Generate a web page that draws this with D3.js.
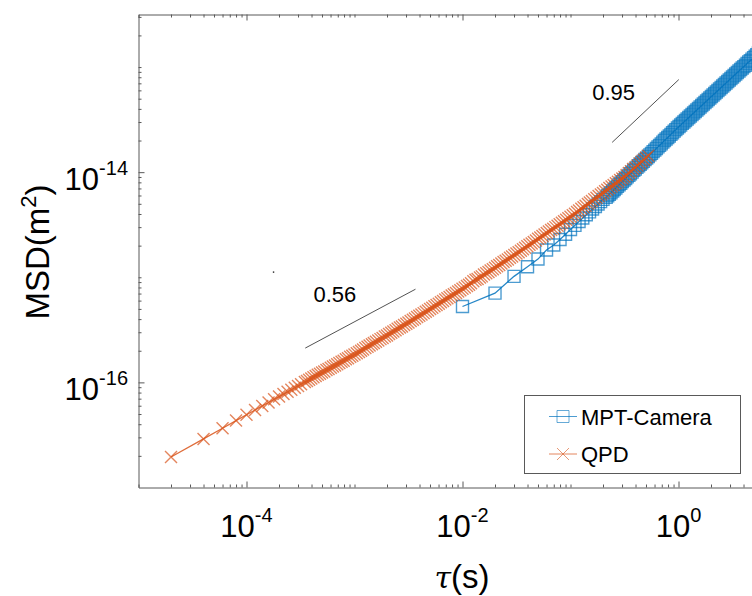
<!DOCTYPE html>
<html><head><meta charset="utf-8">
<script src="https://cdn.jsdelivr.net/npm/d3@7"></script>
<style>
body{margin:0;background:#fff}
svg{display:block}
text{font-family:"Liberation Sans",Arial,Helvetica,sans-serif;fill:#000}
</style>
</head><body><svg id="c" width="752" height="596"></svg>
<script>
// ---------------- data ----------------
const seriesNames = ["MPT-Camera", "QPD"];
const seriesColors = ["#0072BD", "#D95319"];

const qpdTau = [2e-5,4e-5,6e-5,8e-5,1.0e-4,1.2e-4,1.4e-4,1.6e-4,1.8e-4,2.0e-4,2.2e-4,2.4e-4,2.6e-4,2.8e-4,3.0e-4,3.2e-4,
 3.47e-4,3.63e-4,3.80e-4,3.98e-4,4.17e-4,4.37e-4,4.57e-4,4.79e-4,5.01e-4,5.25e-4,5.50e-4,5.75e-4,6.03e-4,6.31e-4,6.61e-4,6.92e-4,7.24e-4,7.59e-4,7.94e-4,8.32e-4,8.71e-4,9.12e-4,9.55e-4,1.00e-3,
 1.05e-3,1.10e-3,1.15e-3,1.20e-3,1.26e-3,1.32e-3,1.38e-3,1.45e-3,1.51e-3,1.58e-3,1.66e-3,1.74e-3,1.82e-3,1.91e-3,2.00e-3,2.09e-3,2.19e-3,2.29e-3,2.40e-3,2.51e-3,2.63e-3,2.75e-3,2.88e-3,3.02e-3,3.16e-3,
 3.31e-3,3.47e-3,3.63e-3,3.80e-3,3.98e-3,4.17e-3,4.37e-3,4.57e-3,4.79e-3,5.01e-3,5.25e-3,5.50e-3,5.75e-3,6.03e-3,6.31e-3,6.61e-3,6.92e-3,7.24e-3,7.59e-3,7.94e-3,8.32e-3,8.71e-3,9.12e-3,9.55e-3,1.00e-2,
 1.05e-2,1.10e-2,1.15e-2,1.20e-2,1.26e-2,1.32e-2,1.38e-2,1.45e-2,1.51e-2,1.58e-2,1.66e-2,1.74e-2,1.82e-2,1.91e-2,2.00e-2,2.09e-2,2.19e-2,2.29e-2,2.40e-2,2.51e-2,2.63e-2,2.75e-2,2.88e-2,3.02e-2,3.16e-2,
 3.31e-2,3.47e-2,3.63e-2,3.80e-2,3.98e-2,4.17e-2,4.37e-2,4.57e-2,4.79e-2,5.01e-2,5.25e-2,5.50e-2,5.75e-2,6.03e-2,6.31e-2,6.61e-2,6.92e-2,7.24e-2,7.59e-2,7.94e-2,8.32e-2,8.71e-2,9.12e-2,9.55e-2,0.100,
 0.105,0.110,0.115,0.120,0.126,0.132,0.138,0.145,0.151,0.158,0.166,0.174,0.182,0.191,0.200,0.209,0.219,0.229,0.240,0.251,0.263,0.275,0.288,0.302,0.316,
 0.331,0.347,0.363,0.380,0.398,0.417,0.437,0.457,0.479,0.501,0.525];
const qpdMsd = [1.95e-17,2.90e-17,3.66e-17,4.33e-17,4.92e-17,5.46e-17,5.97e-17,6.44e-17,6.90e-17,7.33e-17,7.74e-17,8.13e-17,8.51e-17,8.89e-17,9.25e-17,9.59e-17,
 1.01e-16,1.03e-16,1.06e-16,1.09e-16,1.12e-16,1.15e-16,1.18e-16,1.21e-16,1.24e-16,1.27e-16,1.31e-16,1.34e-16,1.38e-16,1.42e-16,1.45e-16,1.49e-16,1.53e-16,1.57e-16,1.61e-16,1.66e-16,1.70e-16,1.75e-16,1.79e-16,1.84e-16,
 1.89e-16,1.95e-16,2.00e-16,2.06e-16,2.12e-16,2.18e-16,2.24e-16,2.30e-16,2.37e-16,2.44e-16,2.50e-16,2.58e-16,2.65e-16,2.73e-16,2.80e-16,2.89e-16,2.97e-16,3.05e-16,3.14e-16,3.23e-16,3.32e-16,3.41e-16,3.51e-16,3.61e-16,3.71e-16,
 3.83e-16,3.94e-16,4.06e-16,4.18e-16,4.30e-16,4.43e-16,4.56e-16,4.70e-16,4.84e-16,4.98e-16,5.14e-16,5.29e-16,5.45e-16,5.61e-16,5.78e-16,5.95e-16,6.13e-16,6.32e-16,6.50e-16,6.70e-16,6.89e-16,7.10e-16,7.32e-16,7.53e-16,7.76e-16,
 8.01e-16,8.25e-16,8.51e-16,8.78e-16,9.18e-16,9.46e-16,9.63e-16,9.93e-16,1.02e-15,1.06e-15,1.09e-15,1.12e-15,1.16e-15,1.19e-15,1.23e-15,1.27e-15,1.31e-15,1.35e-15,1.40e-15,1.44e-15,1.48e-15,1.53e-15,1.58e-15,1.63e-15,1.68e-15,
 1.73e-15,1.79e-15,1.85e-15,1.91e-15,1.97e-15,2.04e-15,2.10e-15,2.17e-15,2.24e-15,2.32e-15,2.39e-15,2.47e-15,2.55e-15,2.64e-15,2.72e-15,2.81e-15,2.90e-15,3.00e-15,3.10e-15,3.20e-15,3.30e-15,3.41e-15,3.52e-15,3.64e-15,3.76e-15,
 3.89e-15,4.03e-15,4.17e-15,4.32e-15,4.48e-15,4.64e-15,4.80e-15,4.97e-15,5.15e-15,5.33e-15,5.52e-15,5.72e-15,5.92e-15,6.13e-15,6.35e-15,6.57e-15,6.81e-15,7.06e-15,7.31e-15,7.56e-15,7.83e-15,8.11e-15,8.41e-15,8.70e-15,9.01e-15,
 9.40e-15,9.80e-15,1.02e-14,1.07e-14,1.11e-14,1.16e-14,1.21e-14,1.26e-14,1.31e-14,1.37e-14,1.43e-14];

const camTau = [0.01,0.02,0.03,0.04,0.05,0.06,0.07,0.08,0.09,0.10,0.11,0.12,0.13,0.14,0.15,0.16,0.17,0.18,0.19,0.20,
 0.214,0.221,0.229,0.237,0.246,0.254,0.263,0.272,0.282,0.292,0.302,0.313,0.324,0.335,0.347,0.359,0.372,0.385,0.398,0.412,0.427,0.442,0.457,0.473,0.490,
 0.507,0.525,0.543,0.562,0.582,0.603,0.624,0.646,0.668,0.692,0.716,0.741,0.767,0.794,0.822,0.851,0.881,0.912,0.944,0.977,
 1.012,1.047,1.084,1.122,1.161,1.202,1.245,1.288,1.334,1.380,1.429,1.479,1.531,1.585,1.641,1.698,1.758,1.820,1.884,1.950,
 2.018,2.089,2.163,2.239,2.317,2.399,2.483,2.570,2.661,2.754,2.851,2.951,3.055,3.162,3.273,3.388,3.508,3.631,3.758,3.891,
 4.027,4.169,4.315,4.467,4.624,4.786,4.955,5.129,5.309,5.495];
const camMsd = [5.27e-16,7.06e-16,1.02e-15,1.26e-15,1.49e-15,1.82e-15,2.03e-15,2.29e-15,2.57e-15,2.85e-15,3.12e-15,3.39e-15,3.66e-15,3.93e-15,4.19e-15,4.46e-15,4.71e-15,4.98e-15,5.25e-15,5.51e-15,
 5.76e-15,5.96e-15,6.17e-15,6.38e-15,6.61e-15,6.84e-15,7.08e-15,7.33e-15,7.59e-15,7.85e-15,8.13e-15,8.42e-15,8.71e-15,9.02e-15,9.33e-15,9.66e-15,1.00e-14,1.04e-14,1.07e-14,1.11e-14,1.15e-14,1.19e-14,1.23e-14,1.27e-14,1.32e-14,
 1.36e-14,1.41e-14,1.46e-14,1.51e-14,1.57e-14,1.62e-14,1.68e-14,1.74e-14,1.80e-14,1.86e-14,1.93e-14,2.00e-14,2.07e-14,2.14e-14,2.21e-14,2.29e-14,2.37e-14,2.46e-14,2.54e-14,2.63e-14,
 2.72e-14,2.81e-14,2.91e-14,3.00e-14,3.10e-14,3.21e-14,3.31e-14,3.42e-14,3.54e-14,3.66e-14,3.78e-14,3.90e-14,4.03e-14,4.17e-14,4.31e-14,4.45e-14,4.60e-14,4.75e-14,4.91e-14,5.08e-14,
 5.25e-14,5.42e-14,5.60e-14,5.79e-14,5.98e-14,6.18e-14,6.39e-14,6.60e-14,6.82e-14,7.05e-14,7.28e-14,7.53e-14,7.78e-14,8.04e-14,8.30e-14,8.58e-14,8.87e-14,9.16e-14,9.47e-14,9.78e-14,
 1.01e-13,1.04e-13,1.08e-13,1.12e-13,1.15e-13,1.19e-13,1.23e-13,1.27e-13,1.31e-13,1.36e-13];

const xMajorTicks = [1e-4, 1e-2, 1e0];
const xTickExponents = ["-4", "-2", "0"];
const yMajorTicks = [1e-16, 1e-14];
const yTickExponents = ["-16", "-14"];

// slope guide lines and their labels
const slopeLabels = ["0.56", "0.95"];
const slopeTauStart = [3.5e-4, 0.243];
const slopeTauEnd = [3.67e-3, 1.0065];
const slopeMsdStart = [2.12e-16, 1.92e-14];
const slopeMsdEnd = [7.7e-16, 7.6e-14];
const slopeLabelTau = [4.17e-4, 0.159];
const slopeLabelMsd = [5.83e-16, 4.84e-14];
const strayDotTau = [1.78e-4];
const strayDotMsd = [1.12e-15];

// ---------------- layout ----------------
const svg = d3.select("#c");
svg.append("rect").attr("width",752).attr("height",596).attr("fill","#fff");
const L = 138.5, T = 14.5, B = 487.5;
const x = d3.scaleLog().domain([1e-5, 1e1]).range([L, L + 648]);
const y = d3.scaleLog().domain([1e-17, Math.pow(10, -12.5)]).range([B, T]);
const axisColor = "#595959";

svg.append("defs").append("clipPath").attr("id","pc")
  .append("rect").attr("x", L).attr("y", T).attr("width", 648).attr("height", B - T);

// ---------------- axes ----------------
function isMajor(v, majors){ return majors.some(m => Math.abs(Math.log10(v) - Math.log10(m)) < 1e-6); }
const xMinor = x.ticks().filter(v => !isMajor(v, xMajorTicks));
const yMinor = y.ticks().filter(v => !isMajor(v, yMajorTicks) && v > 1e-17*1.0001);

function styleAxis(g){
  g.selectAll("path.domain").attr("stroke", axisColor).attr("stroke-width", 1);
  g.selectAll(".tick line").attr("stroke", axisColor).attr("stroke-width", 1);
  g.selectAll(".tick text").remove();
}
function addAxis(gen, tr, vals, size, keepDomain){
  const g = svg.append("g").attr("transform", tr)
    .call(gen.tickValues(vals).tickSize(size).tickSizeOuter(0).tickFormat(""))
    .call(styleAxis);
  if (!keepDomain) g.select("path.domain").remove();
}
addAxis(d3.axisBottom(x), `translate(0,${B})`, xMajorTicks, -6, true);
addAxis(d3.axisBottom(x), `translate(0,${B})`, xMinor, -3, false);
addAxis(d3.axisTop(x), `translate(0,${T})`, xMajorTicks, -6, true);
addAxis(d3.axisTop(x), `translate(0,${T})`, xMinor, -3, false);
addAxis(d3.axisLeft(y), `translate(${L},0)`, yMajorTicks, -6, true);
addAxis(d3.axisLeft(y), `translate(${L},0)`, yMinor, -3, false);

// tick labels with superscripts
xMajorTicks.forEach((v, i) => {
  const t = svg.append("text").attr("x", x(v)).attr("y", 537).attr("text-anchor","middle");
  t.append("tspan").attr("font-size", 31).text("10");
  t.append("tspan").attr("font-size", 20).attr("dy", -15).text(xTickExponents[i]);
});
yMajorTicks.forEach((v, i) => {
  const t = svg.append("text").attr("x", 128).attr("y", y(v) + 18).attr("text-anchor","end");
  t.append("tspan").attr("font-size", 31).text("10");
  t.append("tspan").attr("font-size", 20).attr("dy", -15).text(yTickExponents[i]);
});

// axis titles
const xt = svg.append("text").attr("x", 462).attr("y", 588).attr("text-anchor","middle").attr("font-size", 33);
xt.append("tspan").attr("font-style","italic").attr("font-family","'DejaVu Serif',serif").attr("font-size",30).text("\u03C4");
xt.append("tspan").text("(s)");
const yt = svg.append("text").attr("transform","translate(49,252) rotate(-90)").attr("text-anchor","middle").attr("font-size", 33);
yt.append("tspan").text("MSD(m");
yt.append("tspan").attr("font-size", 22).attr("dy", -13).text("2");
yt.append("tspan").attr("dy", 13).text(")");

// ---------------- series ----------------
const plot = svg.append("g").attr("clip-path","url(#pc)");
const camData = camTau.map((t, i) => ({t, m: camMsd[i]}));
const qpdData = qpdTau.map((t, i) => ({t, m: qpdMsd[i]}));
const line = d3.line().x(d => x(d.t)).y(d => y(d.m));
const S = 6;
const sqPath = `M${-S},${-S}H${S}V${S}H${-S}Z`;
const xPath = `M${-S},${-S}L${S},${S}M${-S},${S}L${S},${-S}`;

function drawSeries(data, color, shape){
  const g = plot.append("g");
  g.selectAll("path.mk").data(data).join("path").attr("class","mk")
    .attr("transform", d => `translate(${x(d.t)},${y(d.m)})`)
    .attr("d", shape).attr("fill","none").attr("stroke", color)
    .attr("stroke-width", 1.4).attr("stroke-opacity", 0.7);
  g.append("path").datum(data).attr("d", line).attr("fill","none")
    .attr("stroke", color).attr("stroke-width", 1.3).attr("stroke-opacity", 0.85);
}
drawSeries(camData, seriesColors[0], sqPath);
drawSeries(qpdData, seriesColors[1], xPath);

// slope guides
slopeLabels.forEach((lab, i) => {
  svg.append("line")
    .attr("x1", x(slopeTauStart[i])).attr("y1", y(slopeMsdStart[i]))
    .attr("x2", x(slopeTauEnd[i])).attr("y2", y(slopeMsdEnd[i]))
    .attr("stroke", "#262626").attr("stroke-width", 0.8);
  svg.append("text").attr("x", x(slopeLabelTau[i])).attr("y", y(slopeLabelMsd[i]))
    .attr("font-size", 22).text(lab);
});
svg.selectAll("rect.dot").data(strayDotTau).join("rect").attr("class","dot")
  .attr("x", d => x(d) - 0.7).attr("y", (d,i) => y(strayDotMsd[i]) - 0.7)
  .attr("width", 1.4).attr("height", 1.4).attr("fill", "#222");

// ---------------- legend ----------------
const lg = svg.append("g");
lg.append("rect").attr("x", 524.5).attr("y", 395.5).attr("width", 216).attr("height", 78)
  .attr("fill","#fff").attr("stroke", axisColor).attr("stroke-width", 1);
const legendRows = [416.5, 454];
seriesNames.forEach((name, i) => {
  const yy = legendRows[i];
  lg.append("line").attr("x1", 549).attr("x2", 577).attr("y1", yy).attr("y2", yy)
    .attr("stroke", seriesColors[i]).attr("stroke-width", 1).attr("stroke-opacity", 0.7);
  lg.append("path").attr("transform", `translate(563,${yy})`).attr("d", i === 0 ? sqPath : xPath)
    .attr("fill","none").attr("stroke", seriesColors[i]).attr("stroke-width", 1).attr("stroke-opacity", 0.6);
  lg.append("text").attr("x", 581).attr("y", yy + 8).attr("font-size", 22).text(name);
});
</script>
</body></html>
